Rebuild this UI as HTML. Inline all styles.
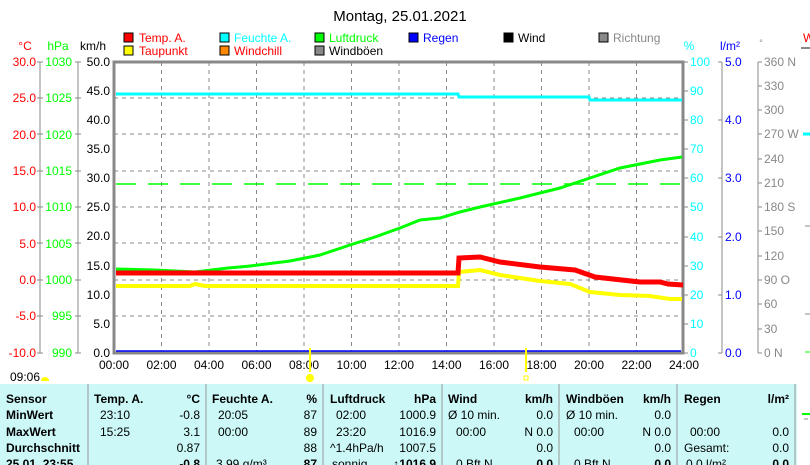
<!DOCTYPE html>
<html><head><meta charset="utf-8"><style>
body{margin:0;width:810px;height:465px;overflow:hidden;background:#fff;font-family:"Liberation Sans",sans-serif;}
svg{display:block}
text{font-family:"Liberation Sans",sans-serif}
</style></head><body>
<svg width="810" height="465" viewBox="0 0 810 465" font-size="12">
<text x="400" y="21" font-size="15" text-anchor="middle" fill="#000">Montag, 25.01.2021</text>
<g font-size="12">
<rect x="124" y="33" width="9" height="9" fill="#f00" stroke="#000"/><text x="139" y="42" fill="#f00">Temp. A.</text>
<rect x="124" y="46" width="9" height="9" fill="#ff0" stroke="#000"/><text x="139" y="55" fill="#f00">Taupunkt</text>
<rect x="220" y="33" width="9" height="9" fill="#0ff" stroke="#000"/><text x="234" y="42" fill="#0ff">Feuchte A.</text>
<rect x="220" y="46" width="9" height="9" fill="#f80" stroke="#000"/><text x="234" y="55" fill="#f00">Windchill</text>
<rect x="315" y="33" width="9" height="9" fill="#0f0" stroke="#000"/><text x="329" y="42" fill="#0f0">Luftdruck</text>
<rect x="315" y="46" width="9" height="9" fill="#888" stroke="#000"/><text x="329" y="55" fill="#000">Windböen</text>
<rect x="409" y="33" width="9" height="9" fill="#00f" stroke="#000"/><text x="423" y="42" fill="#00f">Regen</text>
<rect x="504" y="33" width="9" height="9" fill="#000" stroke="#000"/><text x="518" y="42" fill="#000">Wind</text>
<rect x="599" y="33" width="9" height="9" fill="#888" stroke="#000"/><text x="613" y="42" fill="#888">Richtung</text>
</g>
<text x="25" y="50" fill="#f00" font-size="12" text-anchor="middle">°C</text>
<text x="58" y="50" fill="#0f0" font-size="12" text-anchor="middle">hPa</text>
<text x="93" y="50" fill="#000" font-size="12" text-anchor="middle">km/h</text>
<text x="689" y="50" fill="#0ff" font-size="12" text-anchor="middle">%</text>
<text x="730" y="50" fill="#00f" font-size="12" text-anchor="middle">l/m²</text>
<text x="761" y="46" fill="#888" font-size="9" text-anchor="middle">°</text>
<text x="803" y="42" fill="#f00" font-size="12">W</text>
<line x1="801" y1="48" x2="810" y2="48" stroke="#888" stroke-width="2"/>
<g stroke="#888" stroke-dasharray="4,4" stroke-width="1">
<line x1="114" y1="98" x2="683" y2="98"/><line x1="114" y1="134" x2="683" y2="134"/><line x1="114" y1="171" x2="683" y2="171"/><line x1="114" y1="207" x2="683" y2="207"/><line x1="114" y1="243" x2="683" y2="243"/><line x1="114" y1="280" x2="683" y2="280"/><line x1="114" y1="316" x2="683" y2="316"/>
<line x1="161.5" y1="62" x2="161.5" y2="353"/><line x1="209" y1="62" x2="209" y2="353"/><line x1="256.5" y1="62" x2="256.5" y2="353"/><line x1="304" y1="62" x2="304" y2="353"/><line x1="351.5" y1="62" x2="351.5" y2="353"/><line x1="399" y1="62" x2="399" y2="353"/><line x1="446.5" y1="62" x2="446.5" y2="353"/><line x1="494" y1="62" x2="494" y2="353"/><line x1="541.5" y1="62" x2="541.5" y2="353"/><line x1="589" y1="62" x2="589" y2="353"/><line x1="636.5" y1="62" x2="636.5" y2="353"/>
</g>
<g stroke="#888" stroke-width="1">
<line x1="40" y1="62" x2="40" y2="353"/><line x1="78" y1="62" x2="78" y2="353"/>
<line x1="722" y1="62" x2="722" y2="353"/><line x1="758" y1="62" x2="758" y2="353"/>
</g>
<rect x="114" y="62" width="569" height="291" fill="none" stroke="#888" stroke-width="3"/>
<g font-size="12" text-anchor="end">
<g fill="#f00">
<text x="36" y="66">30.0</text><text x="36" y="102">25.0</text><text x="36" y="139">20.0</text><text x="36" y="175">15.0</text><text x="36" y="211">10.0</text><text x="36" y="248">5.0</text><text x="36" y="284">0.0</text><text x="36" y="320">-5.0</text><text x="36" y="357">-10.0</text></g>
<g fill="#0f0">
<text x="72" y="66">1030</text><text x="72" y="102">1025</text><text x="72" y="139">1020</text><text x="72" y="175">1015</text><text x="72" y="211">1010</text><text x="72" y="248">1005</text><text x="72" y="284">1000</text><text x="72" y="320">995</text><text x="72" y="357">990</text></g>
<g fill="#000">
<text x="110" y="66">50.0</text><text x="110" y="95">45.0</text><text x="110" y="124">40.0</text><text x="110" y="153">35.0</text><text x="110" y="182">30.0</text><text x="110" y="211">25.0</text><text x="110" y="240">20.0</text><text x="110" y="270">15.0</text><text x="110" y="299">10.0</text><text x="110" y="328">5.0</text><text x="110" y="357">0.0</text></g>
</g>
<g stroke="#888">
<path d="M37 62h6M37 98h6M37 134h6M37 171h6M37 207h6M37 243h6M37 280h6M37 316h6M37 353h6"/>
<path d="M75 62h6M75 98h6M75 134h6M75 171h6M75 207h6M75 243h6M75 280h6M75 316h6M75 353h6"/>
<path d="M684 91h4M684 120h4M684 149h4M684 178h4M684 207h4M684 237h4M684 266h4M684 295h4M684 324h4M684 353h4M684 62h4"/>
<path d="M718 62h4M718 120h4M718 178h4M718 237h4M718 295h4M718 353h4"/>
<path d="M758 62h4M758 86h4M758 110h4M758 134h4M758 159h4M758 183h4M758 207h4M758 231h4M758 256h4M758 280h4M758 304h4M758 329h4M758 353h4"/>
</g>
<g font-size="12" fill="#0ff">
<text x="690" y="66">100</text><text x="690" y="95">90</text><text x="690" y="124">80</text><text x="690" y="153">70</text><text x="690" y="182">60</text><text x="690" y="211">50</text><text x="690" y="241">40</text><text x="690" y="270">30</text><text x="690" y="299">20</text><text x="690" y="328">10</text><text x="690" y="357">0</text></g>
<g font-size="12" fill="#00f">
<text x="725" y="66">5.0</text><text x="725" y="124">4.0</text><text x="725" y="182">3.0</text><text x="725" y="241">2.0</text><text x="725" y="299">1.0</text><text x="725" y="357">0.0</text></g>
<g font-size="12" fill="#888">
<text x="764" y="66">360 N</text><text x="764" y="90">330</text><text x="764" y="114">300</text><text x="764" y="138">270 W</text><text x="764" y="163">240</text><text x="764" y="187">210</text><text x="764" y="211">180 S</text><text x="764" y="235">150</text><text x="764" y="260">120</text><text x="764" y="284">90  O</text><text x="764" y="308">60</text><text x="764" y="333">30</text><text x="764" y="357">0    N</text></g>
<line x1="803" y1="134" x2="810" y2="134" stroke="#0ff" stroke-width="3"/>
<line x1="805" y1="226" x2="810" y2="226" stroke="#888"/>
<line x1="805" y1="314" x2="810" y2="314" stroke="#888"/>
<line x1="805" y1="352" x2="810" y2="352" stroke="#0f0"/>
<line x1="116" y1="184" x2="681" y2="184" stroke="#0f0" stroke-width="1.5" stroke-dasharray="20,12"/>
<line x1="116" y1="351" x2="681" y2="351" stroke="#00f" stroke-width="1.5"/>
<polyline fill="none" stroke="#0ff" stroke-width="3" points="116,94 458,94 459,97 589,97 590,100 682,100"/>
<polyline fill="none" stroke="#0f0" stroke-width="3" points="116,269 155,270 195,272 228,268 240,267 250,266 290,261 320,255 350,245 375,237 400,228 420,220 440,218 460,212 480,207 520,198 560,188 590,178 620,168 640,164 660,160 682,157"/>
<polyline fill="none" stroke="#ff0" stroke-width="4" points="116,286 190,286 195,284 205,286 458,286 459,272 480,270 500,275 540,281 570,284 590,292 620,295 650,296 670,299 682,299"/>
<polyline fill="none" stroke="#f00" stroke-width="5" points="116,273 458,273 459,258 480,257 500,262 540,267 575,270 595,277 640,282 660,282 668,284 683,285"/>
<g font-size="12" fill="#000" text-anchor="middle">
<text x="114" y="369">00:00</text><text x="161.5" y="369">02:00</text><text x="209" y="369">04:00</text><text x="256.5" y="369">06:00</text><text x="304" y="369">08:00</text><text x="351.5" y="369">10:00</text><text x="399" y="369">12:00</text><text x="446.5" y="369">14:00</text><text x="494" y="369">16:00</text><text x="541.5" y="369">18:00</text><text x="589" y="369">20:00</text><text x="636.5" y="369">22:00</text><text x="684" y="369">24:00</text></g>
<line x1="310" y1="348" x2="310" y2="372" stroke="#ff0" stroke-width="2"/>
<circle cx="310" cy="378" r="4" fill="#ff0"/>
<line x1="526" y1="348" x2="526" y2="372" stroke="#ff0" stroke-width="2"/>
<rect x="524" y="376" width="4" height="4" fill="none" stroke="#ff0"/>
<text x="10" y="381" font-size="12">09:06</text>
<path d="M41 381a4 4 0 0 1 8 0z" fill="#ff0"/>
<rect x="0" y="384" width="797" height="81" fill="#ccf8f8"/>
<g stroke="#999"><path d="M88 384v81M206 384v81M323 384v81M442 384v81M559 384v81M677 384v81M795 384v81"/></g>
<g font-size="12" fill="#000">
<g font-weight="bold"><text x="6" y="403">Sensor</text><text x="6" y="419">MinWert</text><text x="6" y="436">MaxWert</text><text x="6" y="452">Durchschnitt</text><text x="6" y="468">25.01. 23:55</text>
<text x="94" y="403">Temp. A.</text><text x="200" y="403" text-anchor="end">°C</text>
<text x="212" y="403">Feuchte A.</text><text x="317" y="403" text-anchor="end">%</text>
<text x="330" y="403">Luftdruck</text><text x="436" y="403" text-anchor="end">hPa</text>
<text x="448" y="403">Wind</text><text x="553" y="403" text-anchor="end">km/h</text>
<text x="566" y="403">Windböen</text><text x="671" y="403" text-anchor="end">km/h</text>
<text x="684" y="403">Regen</text><text x="789" y="403" text-anchor="end">l/m²</text>
<text x="200" y="468" text-anchor="end">-0.8</text><text x="317" y="468" text-anchor="end">87</text><text x="436" y="468" text-anchor="end">↑1016.9</text><text x="553" y="468" text-anchor="end">0.0</text><text x="671" y="468" text-anchor="end">0.0</text><text x="789" y="468" text-anchor="end">0.0</text></g>
<text x="100" y="419">23:10</text><text x="200" y="419" text-anchor="end">-0.8</text>
<text x="100" y="436">15:25</text><text x="200" y="436" text-anchor="end">3.1</text>
<text x="200" y="452" text-anchor="end">0.87</text>
<text x="218" y="419">20:05</text><text x="317" y="419" text-anchor="end">87</text>
<text x="218" y="436">00:00</text><text x="317" y="436" text-anchor="end">89</text>
<text x="317" y="452" text-anchor="end">88</text><text x="216" y="468">3.99 g/m³</text>
<text x="336" y="419">02:00</text><text x="436" y="419" text-anchor="end">1000.9</text>
<text x="336" y="436">23:20</text><text x="436" y="436" text-anchor="end">1016.9</text>
<text x="330" y="452">^1.4hPa/h</text><text x="436" y="452" text-anchor="end">1007.5</text><text x="332" y="468">sonnig</text>
<text x="448" y="419">Ø 10 min.</text><text x="553" y="419" text-anchor="end">0.0</text>
<text x="456" y="436">00:00</text><text x="553" y="436" text-anchor="end">N 0.0</text>
<text x="553" y="452" text-anchor="end">0.0</text><text x="456" y="468">0 Bft N</text>
<text x="566" y="419">Ø 10 min.</text><text x="671" y="419" text-anchor="end">0.0</text>
<text x="574" y="436">00:00</text><text x="671" y="436" text-anchor="end">N 0.0</text>
<text x="671" y="452" text-anchor="end">0.0</text><text x="574" y="468">0 Bft N</text>
<text x="690" y="436">00:00</text><text x="789" y="436" text-anchor="end">0.0</text>
<text x="684" y="452">Gesamt:</text><text x="789" y="452" text-anchor="end">0.0</text><text x="686" y="468">0.0 l/m²</text>
</g>
<line x1="802" y1="414" x2="810" y2="414" stroke="#0f0" stroke-width="2"/>
<line x1="804" y1="419" x2="808" y2="419" stroke="#888"/>
</svg>
</body></html>
